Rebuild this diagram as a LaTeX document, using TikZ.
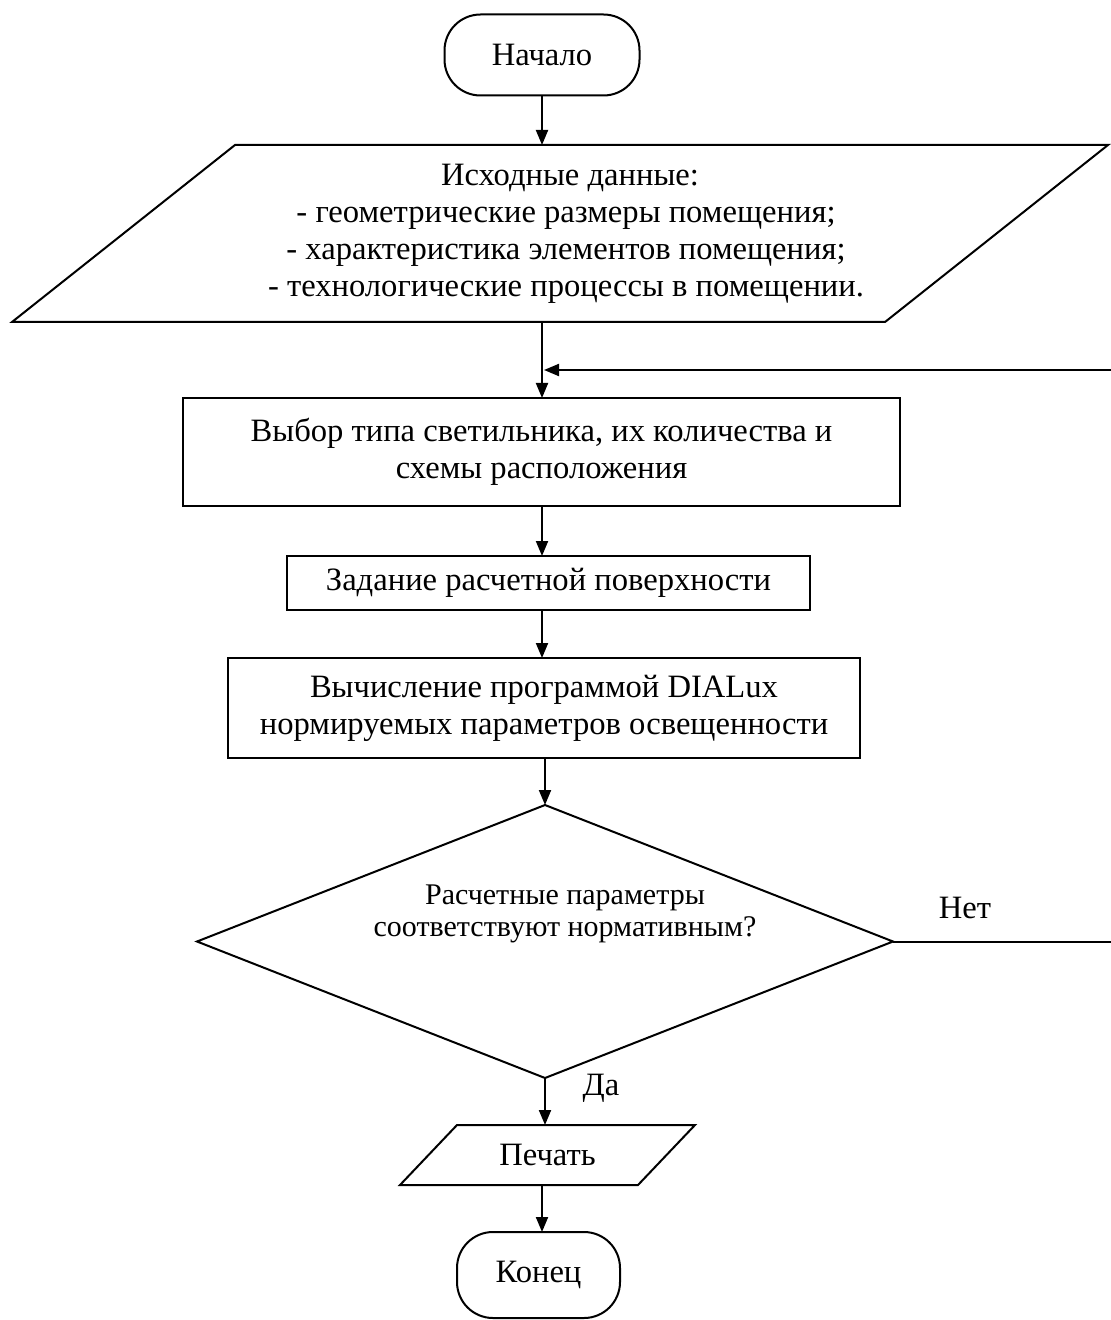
\documentclass[tikz,border=0pt]{standalone}
\usepackage{fontspec}
\setmainfont{Liberation Serif}
\usetikzlibrary{arrows.meta}
\begin{document}
\begin{tikzpicture}[x=0.5pt,y=-0.5pt,
  line width=1pt,
  every node/.style={inner sep=0pt,outer sep=0pt,font=\fontsize{16.3}{18.5}\selectfont,align=center},
  term/.style={draw,rounded corners=18pt},
  box/.style={draw,rectangle},
  ghost/.style={draw=none,rectangle},
  dectext/.style={font=\fontsize{15}{16}\selectfont},
  arr/.style={-{Triangle[length=7.5pt,width=6pt]}}
]
\useasboundingbox (0,0) rectangle (1111,1320);
\fill[white] (0,0) rectangle (1111,1320);

\node[term,minimum width=97.5pt,minimum height=40.5pt] (start) at (542,55) {Начало};

\node[ghost,minimum width=548pt,minimum height=88.5pt] (in) at (560,233.5)
  {\hspace*{10pt}Исходные данные:\\
   \hspace*{6pt}- геометрические размеры помещения;\\
   \hspace*{6pt}- характеристика элементов помещения;\\
   \hspace*{6pt}- технологические процессы в помещении.};
\draw (in.south west) -- ([xshift=111.5pt]in.north west) -- (in.north east)
  -- ([xshift=-111.5pt]in.south east) -- cycle;

\node[box,minimum width=358.5pt,minimum height=54pt] (r1) at (541.5,452)
  {Выбор типа светильника, их количества и\\схемы расположения};
\node[box,minimum width=261.5pt,minimum height=27pt] (r2) at (548.5,583)
  {Задание расчетной поверхности};
\node[box,minimum width=316pt,minimum height=50pt] (r3) at (544,708)
  {Вычисление программой DIALux\\нормируемых параметров освещенности};

\node[ghost,minimum width=348pt,minimum height=136.5pt] (d) at (545,941.5) {};
\draw (d.north) -- (d.east) -- (d.south) -- (d.west) -- cycle;
\node[dectext] (dt) at (565,914) {Расчетные параметры\\соответствуют нормативным?};

\node[ghost,minimum width=147.5pt,minimum height=30pt] (pr) at (547.5,1155) {Печать};
\draw (pr.south west) -- ([xshift=28.5pt]pr.north west) -- (pr.north east)
  -- ([xshift=-28.5pt]pr.south east) -- cycle;

\node[term,minimum width=81.5pt,minimum height=43pt] (end) at (538.5,1275) {Конец};

\node (no) at (965,908) {Нет};
\node (yes) at (601,1088) {Да};

\coordinate (j) at (542,370);
\coordinate (cr) at (1114,370);

\draw[arr] (start.south) -- (start.south |- in.north);
\draw[arr] (j |- in.south) -- (j |- r1.north);
\draw[arr] (j |- r1.south) -- (j |- r2.north);
\draw[arr] (j |- r2.south) -- (j |- r3.north);
\draw[arr] (d.north |- r3.south) -- (d.north);
\draw[arr] (d.south) -- (d.south |- pr.north);
\draw[arr] (j |- pr.south) -- (j |- end.north);
\draw[arr] (d.east) -- (d.east -| cr) -- (cr) -- ([xshift=1pt]j);
\end{tikzpicture}
\end{document}
